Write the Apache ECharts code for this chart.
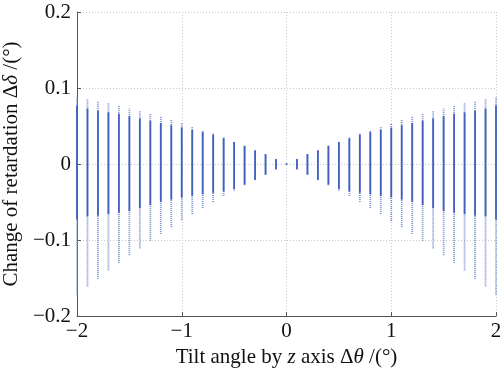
<!DOCTYPE html>
<html>
<head>
<meta charset="utf-8">
<script src="https://cdn.jsdelivr.net/npm/echarts@6/dist/echarts.min.js"></script>
<style>
  html, body {margin: 0; padding: 0; background: #fff;}
  #chart {width: 503px; height: 370px;}
</style>
</head>
<body>
<div id="chart"></div>
<script>
  // tilt angles (deg)
  const angles = [
    -2, -1.9, -1.8, -1.7, -1.6, -1.5, -1.4, -1.3, -1.2, -1.1, -1, -0.9, -0.8, -0.7, -0.6, -0.5, -0.4, -0.3, -0.2, -0.1,
    0,
    0.1, 0.2, 0.3, 0.4, 0.5, 0.6, 0.7, 0.8, 0.9, 1, 1.1, 1.2, 1.3, 1.4, 1.5, 1.6, 1.7, 1.8, 1.9, 2
  ];
  // full spread of retardation change
  const highs = [
    0.088, 0.086, 0.083, 0.080, 0.077, 0.073, 0.070, 0.066, 0.062, 0.058, 0.054, 0.049, 0.044, 0.040, 0.035, 0.029, 0.024, 0.018, 0.013, 0.0066,
    0.0008,
    0.0066, 0.013, 0.018, 0.024, 0.029, 0.035, 0.040, 0.044, 0.049, 0.053, 0.058, 0.062, 0.066, 0.070, 0.073, 0.077, 0.080, 0.083, 0.085, 0.088
  ];
  const lows = [
    -0.172, -0.161, -0.151, -0.140, -0.130, -0.120, -0.111, -0.101, -0.092, -0.083, -0.074, -0.066, -0.058, -0.050, -0.042, -0.035, -0.028, -0.021, -0.014, -0.007,
    -0.0008,
    -0.007, -0.014, -0.021, -0.028, -0.035, -0.042, -0.050, -0.058, -0.066, -0.075, -0.083, -0.092, -0.101, -0.111, -0.120, -0.130, -0.140, -0.151, -0.161, -0.172
  ];
  // dense (solid) part of each spread
  const coreHighs = [
    0.077, 0.073, 0.070, 0.068, 0.066, 0.063, 0.060, 0.057, 0.054, 0.051, 0.048, 0.045, 0.042, 0.039, 0.034, 0.029, 0.024, 0.018, 0.013, 0.0066,
    0.0008,
    0.0066, 0.013, 0.018, 0.024, 0.029, 0.034, 0.039, 0.042, 0.045, 0.048, 0.051, 0.054, 0.057, 0.060, 0.063, 0.066, 0.068, 0.070, 0.073, 0.077
  ];
  const coreLows = [
    -0.073, -0.069, -0.068, -0.066, -0.064, -0.062, -0.058, -0.054, -0.050, -0.047, -0.044, -0.042, -0.040, -0.038, -0.036, -0.033, -0.027, -0.021, -0.014, -0.007,
    -0.0008,
    -0.007, -0.014, -0.021, -0.027, -0.033, -0.036, -0.038, -0.040, -0.042, -0.044, -0.047, -0.050, -0.054, -0.058, -0.062, -0.064, -0.066, -0.068, -0.069, -0.073
  ];
  const xTicks = [-2, -1, 0, 1, 2];
  const yTicks = [-0.2, -0.1, 0, 0.1, 0.2];

  const font = '"Liberation Serif", "DejaVu Serif", serif';
  const minus = v => String(v).replace('-', '\u2212');

  const chart = echarts.init(document.getElementById('chart'));

  chart.setOption({
    animation: false,
    backgroundColor: '#fff',
    grid: {left: 77, right: 7, top: 12, bottom: 54, outerBoundsMode: 'none'},
    xAxis: {
      type: 'value',
      min: xTicks[0],
      max: xTicks[xTicks.length - 1],
      interval: 1,
      name: 'Tilt angle by {i|z} axis Δ{i|θ} /(°)',
      nameLocation: 'middle',
      nameGap: 28,
      nameTextStyle: {
        fontFamily: font, fontSize: 21, color: '#111',
        rich: {i: {fontFamily: font, fontSize: 21, fontStyle: 'italic', color: '#111'}}
      },
      axisLine: {onZero: false, lineStyle: {color: '#555', width: 1}},
      axisTick: {inside: true, length: 4, lineStyle: {color: '#555'}},
      axisLabel: {fontFamily: font, fontSize: 21, color: '#111', margin: 5, formatter: minus},
      splitLine: {show: true, lineStyle: {color: '#c8c8c8', type: [1, 2]}}
    },
    yAxis: {
      type: 'value',
      min: yTicks[0],
      max: yTicks[yTicks.length - 1],
      interval: 0.1,
      name: 'Change of retardation Δ{i|δ} /(°)',
      nameLocation: 'middle',
      nameGap: 52,
      nameTextStyle: {
        fontFamily: font, fontSize: 21, color: '#111',
        rich: {i: {fontFamily: font, fontSize: 21, fontStyle: 'italic', color: '#111'}}
      },
      axisLine: {show: true, onZero: false, lineStyle: {color: '#555', width: 1}},
      axisTick: {show: true, inside: true, length: 4, lineStyle: {color: '#555'}},
      axisLabel: {fontFamily: font, fontSize: 21, color: '#111', margin: 6, formatter: v => minus(+v.toFixed(1))},
      splitLine: {show: true, lineStyle: {color: '#c8c8c8', type: [1, 2]}}
    },
    series: [{
      type: 'custom',
      data: angles.map((a, i) => [a, lows[i], highs[i], coreLows[i], coreHighs[i]]),
      renderItem(params, api) {
        const x = api.value(0);
        const pLo = api.coord([x, api.value(1)]);
        const pHi = api.coord([x, api.value(2)]);
        const cLo = api.coord([x, api.value(3)]);
        const cHi = api.coord([x, api.value(4)]);
        return {
          type: 'group',
          children: [
            {
              type: 'line',
              shape: {x1: pLo[0], y1: pLo[1], x2: pHi[0], y2: pHi[1]},
              style: {stroke: '#7790d5', lineWidth: 1.8, lineDash: [1, 1]}
            },
            {
              type: 'line',
              shape: {x1: cLo[0], y1: cLo[1], x2: cHi[0], y2: cHi[1]},
              style: {stroke: '#3f60bf', lineWidth: 1.8}
            }
          ]
        };
      }
    }]
  });
</script>
</body>
</html>
